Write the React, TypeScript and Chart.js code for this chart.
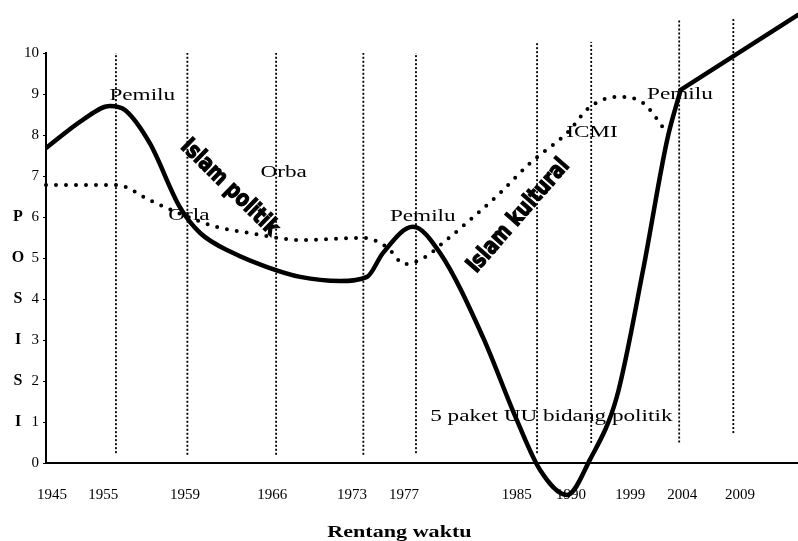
import { useEffect, useRef } from "react";
import { Chart, registerables } from "chart.js";

Chart.register(...registerables);

// x axis uses an abstract "time position" scale (0..100)
const xTickPositions = [0.8, 7.6, 18.5, 30.1, 40.7, 47.6, 62.6, 69.8, 77.7, 84.6, 92.3];
const xTickLabels = ["1945", "1955", "1959", "1966", "1973", "1977", "1985", "1990", "1999", "2004", "2009"];
const yTickValues = [0, 1, 2, 3, 4, 5, 6, 7, 8, 9, 10];

// Solid line: political position
const solidX = [0, 4.9, 8.5, 10.5, 13.8, 17.8, 20.5, 24.9, 29.4, 33.8, 39.1, 42.7, 44.8, 48.8, 52.4, 58.1, 62.6, 65.7, 69.3, 72.3, 75.9, 79.4, 82.6, 84.4];
const solidY = [7.68, 8.37, 8.71, 8.61, 7.8, 6.24, 5.61, 5.12, 4.78, 4.54, 4.44, 4.54, 5.12, 5.76, 5.12, 3.07, 1.05, -0.17, -0.78, 0.07, 1.61, 4.71, 7.88, 9.1];
// Straight continuation after 2004
const straightX = [84.4, 100];
const straightY = [9.1, 10.93];

// Dotted line: cultural Islam
const dottedX = [0, 9.4, 13.8, 18.2, 22.7, 27.1, 33.8, 42.2, 45.3, 47.7, 50.4, 52.8, 56.4, 60.4, 64.4, 69.3, 72.3, 76.1, 79.4, 82.6];
const dottedY = [6.78, 6.78, 6.41, 6.05, 5.76, 5.61, 5.44, 5.49, 5.27, 4.85, 5.02, 5.37, 5.93, 6.59, 7.32, 8.05, 8.68, 8.93, 8.78, 8.05];

// Vertical dotted period markers
const markerX = [9.3, 18.8, 30.6, 42.2, 49.2, 65.3, 72.5, 84.2, 91.4];
const markerBottom = [0.24, 0.2, 0.2, 0.2, 0.24, 0.24, 0.49, 0.5, 0.73];
const markerTop = [10, 10, 10, 10, 10, 10.27, 10.27, 10.8, 10.85];

// Axis titles
const yTitleLetters = ["P", "O", "S", "I", "S", "I"];
const yTitleValues = [6, 5, 4, 3, 2, 1];
const xTitle = "Rentang waktu";

// Annotations (data units)
const noteTexts = ["Pemilu", "Orba", "Orla", "Pemilu", "ICMI", "Pemilu", "5 paket UU bidang politik"];
const noteX = [12.8, 31.6, 19.0, 50.1, 72.6, 84.3, 67.2];
const noteY = [8.95, 7.07, 6.02, 6.0, 8.05, 8.98, 1.12];

const slantTexts = ["Islam politik", "Islam kultural"];
const slantStartX = [18.35, 56.6];
const slantStartY = [7.8, 4.71];
const slantEndX = [30.45, 69.1];
const slantEndY = [5.63, 7.34];

const SERIF = "'Liberation Serif', 'DejaVu Serif', serif";

const textPlugin = {
  id: "textPlugin",
  afterDraw(chart: any) {
    const ctx = chart.ctx as CanvasRenderingContext2D;
    const xs = chart.scales.x;
    const ys = chart.scales.y;
    ctx.save();
    ctx.fillStyle = "#000";
    ctx.textAlign = "center";
    ctx.textBaseline = "middle";

    // y title letters
    ctx.font = `bold 16px ${SERIF}`;
    yTitleLetters.forEach((l, i) => {
      ctx.fillText(l, 18, ys.getPixelForValue(yTitleValues[i]));
    });

    // x title (stretched)
    ctx.save();
    ctx.translate(xs.getPixelForValue(47), chart.chartArea.bottom + 70);
    ctx.scale(1.3, 1);
    ctx.font = `bold 17px ${SERIF}`;
    ctx.fillText(xTitle, 0, 0);
    ctx.restore();

    // notes (horizontally stretched serif)
    ctx.font = `16px ${SERIF}`;
    noteTexts.forEach((t, i) => {
      ctx.save();
      ctx.translate(xs.getPixelForValue(noteX[i]), ys.getPixelForValue(noteY[i]));
      ctx.scale(1.45, 1);
      ctx.fillText(t, 0, 0);
      ctx.restore();
    });

    // slanted bold texts
    slantTexts.forEach((t, i) => {
      const x1 = xs.getPixelForValue(slantStartX[i]);
      const y1 = ys.getPixelForValue(slantStartY[i]);
      const x2 = xs.getPixelForValue(slantEndX[i]);
      const y2 = ys.getPixelForValue(slantEndY[i]);
      const len = Math.hypot(x2 - x1, y2 - y1);
      const ang = Math.atan2(y2 - y1, x2 - x1);
      ctx.save();
      ctx.translate((x1 + x2) / 2, (y1 + y2) / 2);
      ctx.rotate(ang);
      ctx.font = `bold 23px 'DejaVu Sans Condensed', 'DejaVu Sans', sans-serif`;
      const w = ctx.measureText(t).width;
      ctx.scale(len / w, 1);
      ctx.lineWidth = 1.2;
      ctx.strokeStyle = "#000";
      ctx.fillText(t, 0, 0);
      ctx.strokeText(t, 0, 0);
      ctx.restore();
    });
    ctx.restore();
  },
};

export default function App() {
  const ref = useRef<HTMLCanvasElement | null>(null);
  useEffect(() => {
    if (!ref.current) return;
    const markerSets = markerX.map((x, i) => ({
      data: [
        { x, y: markerBottom[i] },
        { x, y: markerTop[i] },
      ],
      borderColor: "#000",
      borderWidth: 1.8,
      borderDash: [2, 2],
      pointRadius: 0,
      tension: 0,
      clip: false as any,
    }));
    const chart = new Chart(ref.current, {
      type: "line",
      data: {
        datasets: [
          ...markerSets,
          {
            data: dottedX.map((x, i) => ({ x, y: dottedY[i] })),
            borderColor: "#000",
            borderWidth: 4,
            borderDash: [0, 10],
            borderCapStyle: "round",
            pointRadius: 0,
            cubicInterpolationMode: "monotone",
            clip: false as any,
          },
          {
            data: solidX.map((x, i) => ({ x, y: solidY[i] })),
            borderColor: "#000",
            borderWidth: 4.5,
            pointRadius: 0,
            cubicInterpolationMode: "monotone",
            borderJoinStyle: "round",
            clip: false as any,
          },
          {
            data: straightX.map((x, i) => ({ x, y: straightY[i] })),
            borderColor: "#000",
            borderWidth: 4.5,
            pointRadius: 0,
            tension: 0,
            borderCapStyle: "round",
            clip: false as any,
          },
        ] as any,
      },
      options: {
        animation: false,
        responsive: false,
        devicePixelRatio: 1,
        layout: { padding: { top: 53, right: 0, left: 0, bottom: 0 } },
        plugins: { legend: { display: false }, tooltip: { enabled: false } },
        scales: {
          x: {
            type: "linear",
            min: 0,
            max: 100,
            afterBuildTicks: (s: any) => {
              s.ticks = xTickPositions.map((v) => ({ value: v }));
            },
            afterFit: (s: any) => {
              s.height = 78;
            },
            ticks: {
              callback: (_v: any, i: number) => xTickLabels[i],
              autoSkip: false,
              maxRotation: 0,
              color: "#000",
              padding: 23,
              font: { family: SERIF, size: 15 },
            },
            grid: { drawOnChartArea: false, drawTicks: false },
            border: { color: "#000", width: 2 },
          },
          y: {
            type: "linear",
            min: 0,
            max: 10,
            afterBuildTicks: (s: any) => {
              s.ticks = yTickValues.map((v) => ({ value: v }));
            },
            afterFit: (s: any) => {
              s.width = 46;
            },
            ticks: {
              color: "#000",
              padding: 4,
              font: { family: SERIF, size: 15 },
            },
            grid: { drawOnChartArea: false, drawTicks: true, tickLength: 3, color: "#000" },
            border: { color: "#000", width: 2 },
          },
        },
      } as any,
      plugins: [textPlugin],
    });
    return () => chart.destroy();
  }, []);
  return (
    <div style={{ position: "absolute", left: 0, top: 0, width: 798, height: 541, background: "#fff" }}>
      <canvas ref={ref} width={798} height={541} />
    </div>
  );
}
